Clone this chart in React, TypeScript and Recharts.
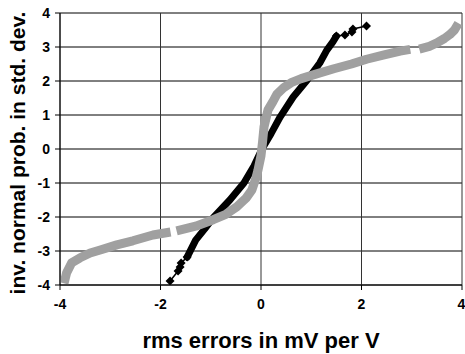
import React from 'react';
import { LineChart, Line, XAxis, YAxis, CartesianGrid } from 'recharts';

const xTicks = [-4, -2, 0, 2, 4];
const yTicks = [-4, -3, -2, -1, 0, 1, 2, 3, 4];

// gray series (heavy-tailed errors); null marks a gap between points
const grayX = [-3.92, -3.87, -3.77, -3.6, -3.4, -3.2, -2.87, -2.55, -2.15, -1.8, -1.74, -1.68, -1.3, -0.95, -0.7, -0.48, -0.3, -0.18, -0.1, -0.06, 0.0, 0.03, 0.06, 0.14, 0.24, 0.32, 0.45, 0.6, 0.8, 1.04, 1.45, 1.8, 2.1, 2.45, 2.77, 2.97, 3.06, 3.15, 3.35, 3.5, 3.65, 3.76, 3.85, 3.93];
const grayY: (number | null)[] = [-3.95, -3.65, -3.35, -3.2, -3.06, -2.97, -2.82, -2.7, -2.53, -2.44, null, -2.41, -2.27, -2.08, -1.92, -1.7, -1.45, -1.2, -0.85, -0.62, -0.2, 0.2, 0.65, 1.15, 1.4, 1.62, 1.8, 1.95, 2.07, 2.18, 2.36, 2.5, 2.64, 2.77, 2.88, 2.93, null, 2.94, 3.02, 3.12, 3.25, 3.37, 3.5, 3.7];

// black series (near-normal errors)
const blackCoreX = [-1.47, -1.3, -1.12, -0.95, -0.62, -0.34, -0.14, 0.02, 0.2, 0.38, 0.64, 0.92, 1.17, 1.31, 1.43, 1.5];
const blackCoreY = [-3.18, -2.68, -2.35, -2.02, -1.5, -1.0, -0.5, 0.0, 0.45, 0.94, 1.53, 2.03, 2.53, 2.91, 3.15, 3.32];
const blackLowX = [-1.81, -1.65, -1.61, -1.59, -1.47];
const blackLowY = [-3.88, -3.59, -3.47, -3.35, -3.18];
const blackHighX = [1.5, 1.67, 1.81, 1.83, 2.1];
const blackHighY = [3.32, 3.35, 3.44, 3.53, 3.62];

const zip = (xs: number[], ys: (number | null)[]) => xs.map((x, i) => ({ x, y: ys[i] }));
const grayData = zip(grayX, grayY);
const blackCore = zip(blackCoreX, blackCoreY);
const blackLow = zip(blackLowX, blackLowY);
const blackHigh = zip(blackHighX, blackHighY);

const FONT = '"Liberation Sans", Arial, sans-serif';

const Diamond = (props: any) => {
  const { cx, cy } = props;
  if (cx == null || cy == null) return null;
  const r = 4.5;
  return <polygon points={`${cx},${cy - r} ${cx + r},${cy} ${cx},${cy + r} ${cx - r},${cy}`} fill="#000" />;
};

const YLabel = () => (
  <text x={25} y={153} transform="rotate(-90 25 153)" textAnchor="middle" fontFamily={FONT} fontWeight="bold" fontSize={21} fill="#000">
    inv. normal prob. in std. dev.
  </text>
);

export default function App() {
  return (
    <div style={{ position: 'absolute', left: 0, top: 0, background: '#fff' }}>
      <LineChart width={465} height={354} margin={{ top: 13, right: 3, left: 0, bottom: 0 }}>
        <CartesianGrid vertical={false} stroke="#000" strokeWidth={1} />
        <CartesianGrid horizontal={false} stroke="#333" strokeWidth={1} />
        <XAxis
          type="number"
          dataKey="x"
          domain={[-4, 4]}
          ticks={xTicks}
          allowDataOverflow
          height={69}
          tickSize={5}
          tickMargin={9}
          axisLine={{ stroke: '#000' }}
          tickLine={{ stroke: '#000' }}
          tick={{ fill: '#000', fontSize: 14, fontWeight: 'bold', fontFamily: FONT }}
          label={{ value: 'rms errors in mV per V', position: 'insideBottom', offset: 6, style: { fill: '#000', fontSize: 22, fontWeight: 'bold', fontFamily: FONT } }}
        />
        <YAxis
          type="number"
          dataKey="y"
          domain={[-4, 4]}
          ticks={yTicks}
          allowDataOverflow
          width={60}
          tickSize={5}
          tickMargin={5}
          axisLine={{ stroke: '#000' }}
          tickLine={{ stroke: '#000' }}
          tick={{ fill: '#000', fontSize: 14, fontWeight: 'bold', fontFamily: FONT }}
          label={{ content: YLabel }}
        />
        <Line data={blackCore} dataKey="y" stroke="#000" strokeWidth={7} strokeLinejoin="round" strokeLinecap="round" dot={false} activeDot={false} isAnimationActive={false} />
        <Line data={blackLow} dataKey="y" stroke="#000" strokeWidth={1.5} dot={<Diamond />} activeDot={false} isAnimationActive={false} />
        <Line data={blackHigh} dataKey="y" stroke="#000" strokeWidth={1.5} dot={<Diamond />} activeDot={false} isAnimationActive={false} />
        <Line data={grayData} dataKey="y" stroke="#a0a0a0" strokeWidth={9} strokeLinejoin="round" strokeLinecap="butt" dot={false} activeDot={false} connectNulls={false} isAnimationActive={false} />
      </LineChart>
    </div>
  );
}
